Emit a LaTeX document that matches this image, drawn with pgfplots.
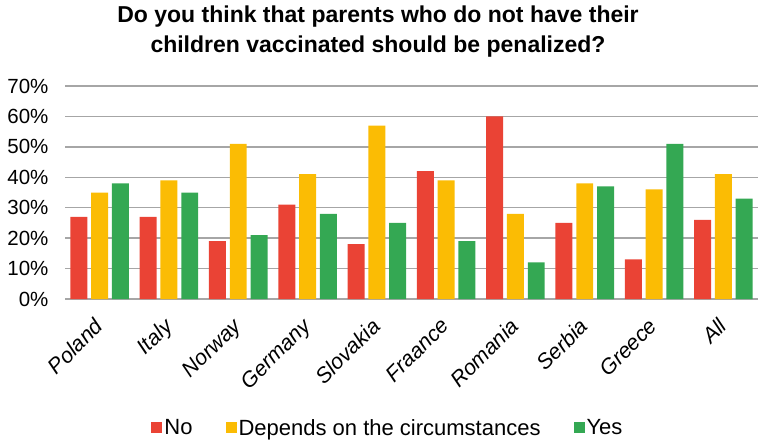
\documentclass[border=0pt]{standalone}
\usepackage{pgfplots}
\pgfplotsset{compat=1.18}
\usepackage{fontspec}
\setmainfont{Liberation Sans}
\definecolor{cno}{HTML}{EA4335}
\definecolor{cdep}{HTML}{FBBC04}
\definecolor{cyes}{HTML}{34A853}
\definecolor{gridc}{HTML}{A6A6A6}
\begin{document}
\begin{tikzpicture}
\path[use as bounding box] (0,0) rectangle (759bp,-442bp);
\node[font=\fontsize{23bp}{30bp}\selectfont\bfseries, anchor=base] at (378bp,-22bp)
 {Do you think that parents who do not have their};
\node[font=\fontsize{23bp}{30bp}\selectfont\bfseries, anchor=base] at (378bp,-52bp)
 {children vaccinated should be penalized?};
\begin{axis}[
  at={(65bp,-299bp)}, anchor=south west,
  scale only axis, width=693bp, height=213bp,
  ymin=0, ymax=70, xmin=-0.5, xmax=9.5,
  ytick={0,10,...,70},
  yticklabel={\pgfmathprintnumber{\tick}\%},
  /pgf/number format/assume math mode=true,
  xtick=data,
  xticklabels={Poland,Italy,Norway,Germany,Slovakia,Fraance,Romania,Serbia,Greece,All},
  x tick label style={rotate=45, anchor=north east, font=\fontsize{21.5bp}{24bp}\selectfont\itshape, inner sep=1bp, xshift=-16bp, yshift=-7bp},
  y tick label style={font=\fontsize{20.5bp}{24bp}\selectfont, xshift=-13bp},
  ymajorgrids, grid style={gridc, line width=1.3bp},
  axis x line*=bottom, axis y line*=left,
  y axis line style={draw=none},
  x axis line style={gridc, line width=1.6bp, -},
  major tick length=0pt,
  ybar, bar width=0.245,
  legend style={at={(0.466,-0.606)}, anchor=center, draw=none, legend columns=3,
    font=\fontsize{22bp}{24bp}\selectfont, /tikz/every even column/.append style={column sep=31bp}},
  legend image code/.code={\fill[#1] (0bp,-5bp) rectangle (11bp,6bp);},
]
\addplot[fill=cno, draw=none, bar shift=-0.3] coordinates {(0,27) (1,27) (2,19) (3,31) (4,18) (5,42) (6,60) (7,25) (8,13) (9,26)};
\addplot[fill=cdep, draw=none, bar shift=0] coordinates {(0,35) (1,39) (2,51) (3,41) (4,57) (5,39) (6,28) (7,38) (8,36) (9,41)};
\addplot[fill=cyes, draw=none, bar shift=0.3] coordinates {(0,38) (1,35) (2,21) (3,28) (4,25) (5,19) (6,12) (7,37) (8,51) (9,33)};
\legend{No,Depends on the circumstances,Yes}
\end{axis}
\end{tikzpicture}
\end{document}
